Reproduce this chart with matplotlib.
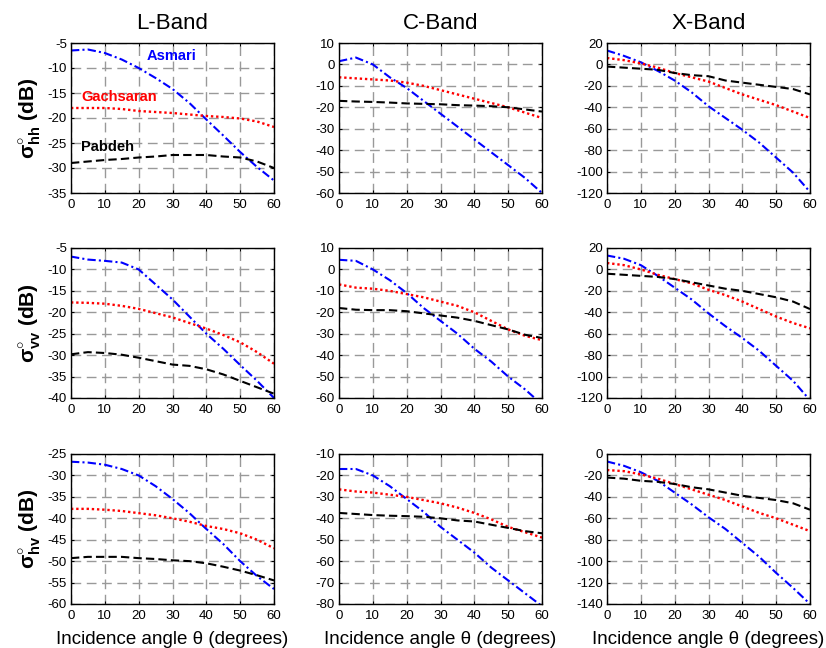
import matplotlib
matplotlib.use('Agg')
from matplotlib import pyplot as plt

plt.rcParams['font.family'] = ['Liberation Sans', 'DejaVu Sans']
plt.rcParams['mathtext.fontset'] = 'custom'
plt.rcParams['mathtext.rm'] = 'Liberation Sans'
plt.rcParams['mathtext.bf'] = 'Liberation Sans:bold'
plt.rcParams['axes.unicode_minus'] = False

angle = [0, 5, 10, 15, 20, 25, 30, 35, 40, 45, 50, 55, 60]

# L-band
l_hh_asmari = [-6.5, -6.3, -7.0, -8.3, -10, -12, -14.2, -17, -20.3, -23.5, -26.8, -29.8, -32.5]
l_hh_gachsaran = [-18, -18, -18, -18.2, -18.6, -18.8, -19, -19.3, -19.6, -19.8, -20.1, -20.7, -21.8]
l_hh_pabdeh = [-29, -28.7, -28.4, -28.2, -27.9, -27.7, -27.4, -27.4, -27.4, -27.7, -27.9, -28.7, -30]
l_vv_asmari = [-7, -7.7, -8, -8.4, -10, -13.5, -17, -21, -25, -28.5, -32.3, -36, -40]
l_vv_gachsaran = [-17.7, -17.8, -18, -18.5, -19.2, -20.2, -21.2, -22.5, -23.8, -25.3, -27, -29.3, -32]
l_vv_pabdeh = [-29.8, -29.3, -29.5, -29.9, -30.6, -31.4, -32.2, -32.5, -33.3, -34.5, -36, -37.5, -39]
l_hv_asmari = [-26.8, -27, -27.5, -28.5, -30, -32.5, -35.5, -38.8, -42.5, -46, -50, -53.5, -56.5]
l_hv_gachsaran = [-37.8, -37.8, -38, -38.3, -38.8, -39.3, -40, -40.8, -41.8, -42.5, -43.5, -45, -47]
l_hv_pabdeh = [-49.3, -49, -49, -49, -49.3, -49.5, -49.8, -50, -50.5, -51.3, -52.2, -53.3, -54.5]

# C-band
c_hh_asmari = [1.5, 3.2, 0, -6, -11, -17, -23, -29, -35, -41, -47, -53, -60]
c_hh_gachsaran = [-6, -6.5, -7, -7.5, -8.5, -10, -12, -14, -16, -18, -20, -22.5, -25]
c_hh_pabdeh = [-17, -17.3, -17.5, -17.8, -18.2, -18.4, -18.6, -19, -19.2, -19.5, -20, -21, -22]
c_vv_asmari = [4.5, 4, 0, -5, -11, -18, -24, -30, -37, -43, -50, -56, -63]
c_vv_gachsaran = [-7, -8.5, -9, -10, -11.5, -13, -15, -17, -20, -24, -28, -31, -33]
c_vv_pabdeh = [-18, -18.8, -19, -19, -19.5, -20.5, -21.5, -22.5, -24, -26, -28, -30.5, -32]
c_hv_asmari = [-17, -17, -20, -25, -31, -37, -44, -50, -56, -63, -69, -75, -81]
c_hv_gachsaran = [-26.5, -27.5, -28, -29, -30, -31.5, -33, -35, -37.5, -40.5, -44, -46.5, -49]
c_hv_pabdeh = [-37.5, -38, -38.5, -38.8, -39, -39.3, -40, -41, -41.5, -43, -44.5, -46, -47]

# X-band
x_hh_asmari = [13, 8, 2, -6, -15, -26, -39, -50, -61, -73, -87, -101, -119]
x_hh_gachsaran = [6, 4, 1, -3, -8, -12, -16, -22, -28, -33, -38, -44, -50]
x_hh_pabdeh = [-2, -3, -4, -5, -8, -10, -11, -15, -17, -19, -21, -23, -28]
x_vv_asmari = [13, 10, 4, -6, -17, -28, -41, -53, -64, -76, -90, -104, -122]
x_vv_gachsaran = [6, 4, 0, -5, -9, -13, -19, -24, -30, -37, -44, -50, -55]
x_vv_pabdeh = [-4, -5, -6, -7, -9, -12, -15, -18, -20, -23, -26, -30, -37]
x_hv_asmari = [-7, -11, -17, -25, -36, -47, -59, -70, -83, -96, -111, -125, -140]
x_hv_gachsaran = [-15, -16, -19, -23, -28, -33, -38, -43, -49, -55, -60, -66, -72]
x_hv_pabdeh = [-22, -23, -25, -26, -28, -31, -33, -36, -39, -41, -43, -46, -52]

bands = ['L-Band', 'C-Band', 'X-Band']
pols = ['hh', 'vv', 'hv']
data = [
    [(l_hh_asmari, l_hh_gachsaran, l_hh_pabdeh), (c_hh_asmari, c_hh_gachsaran, c_hh_pabdeh), (x_hh_asmari, x_hh_gachsaran, x_hh_pabdeh)],
    [(l_vv_asmari, l_vv_gachsaran, l_vv_pabdeh), (c_vv_asmari, c_vv_gachsaran, c_vv_pabdeh), (x_vv_asmari, x_vv_gachsaran, x_vv_pabdeh)],
    [(l_hv_asmari, l_hv_gachsaran, l_hv_pabdeh), (c_hv_asmari, c_hv_gachsaran, c_hv_pabdeh), (x_hv_asmari, x_hv_gachsaran, x_hv_pabdeh)],
]
ylims = [
    [(-35, -5, 5), (-60, 10, 10), (-120, 20, 20)],
    [(-40, -5, 5), (-60, 10, 10), (-120, 20, 20)],
    [(-60, -25, 5), (-80, -10, 10), (-140, 0, 20)],
]

fig = plt.figure(figsize=(8.26, 6.48), dpi=100)
lefts = [71, 339, 607]
bottoms = [193, 398, 604]
w, h = 203, 150

for r in range(3):
    for c in range(3):
        ax = fig.add_axes([lefts[c] / 826, 1 - bottoms[r] / 648, w / 826, h / 648])
        asm, gac, pab = data[r][c]
        ax.plot(angle, asm, color='blue', linestyle=(0, (4, 1.5, 1, 1.5)), linewidth=1.5)
        ax.plot(angle, gac, color='red', linestyle=(0, (1, 1.2)), linewidth=1.7)
        ax.plot(angle, pab, color='black', linestyle=(0, (4, 2)), linewidth=1.5)
        lo, hi, step = ylims[r][c]
        ax.set_ylim(lo, hi)
        ax.set_yticks(range(lo, hi + 1, step))
        ax.set_xlim(0, 60)
        ax.set_xticks(range(0, 61, 10))
        ax.grid(True, color='0.6', linestyle=(0, (7, 4)), linewidth=1.0)
        ax.tick_params(direction='in', labelsize=9.5, length=2, pad=3,
                       top=True, right=True)
        ax.tick_params(axis='x', pad=4)
        for s in ax.spines.values():
            s.set_color('black')
            s.set_linewidth(1.0)
        if r == 0:
            ax.set_title(bands[c], fontsize=16, pad=10)
        if c == 0:
            ax.set_ylabel(r'$\mathbf{\sigma}^{\mathbf{\circ}}_{\mathbf{%s}}$ (dB)' % pols[r],
                          fontsize=15, fontweight='bold', labelpad=3)
        if r == 2:
            ax.set_xlabel('Incidence angle θ (degrees)', fontsize=13.5, labelpad=7)
        if r == 0 and c == 0:
            ax.text(22.5, -7.7, 'Asmari', color='blue', fontsize=10.5,
                    fontweight='bold', va='center')
            ax.text(3, -15.8, 'Gachsaran', color='red', fontsize=10.5,
                    fontweight='bold', va='center')
            ax.text(3, -25.8, 'Pabdeh', color='black', fontsize=10.5,
                    fontweight='bold', va='center')

fig.savefig('out.png', dpi=100)
